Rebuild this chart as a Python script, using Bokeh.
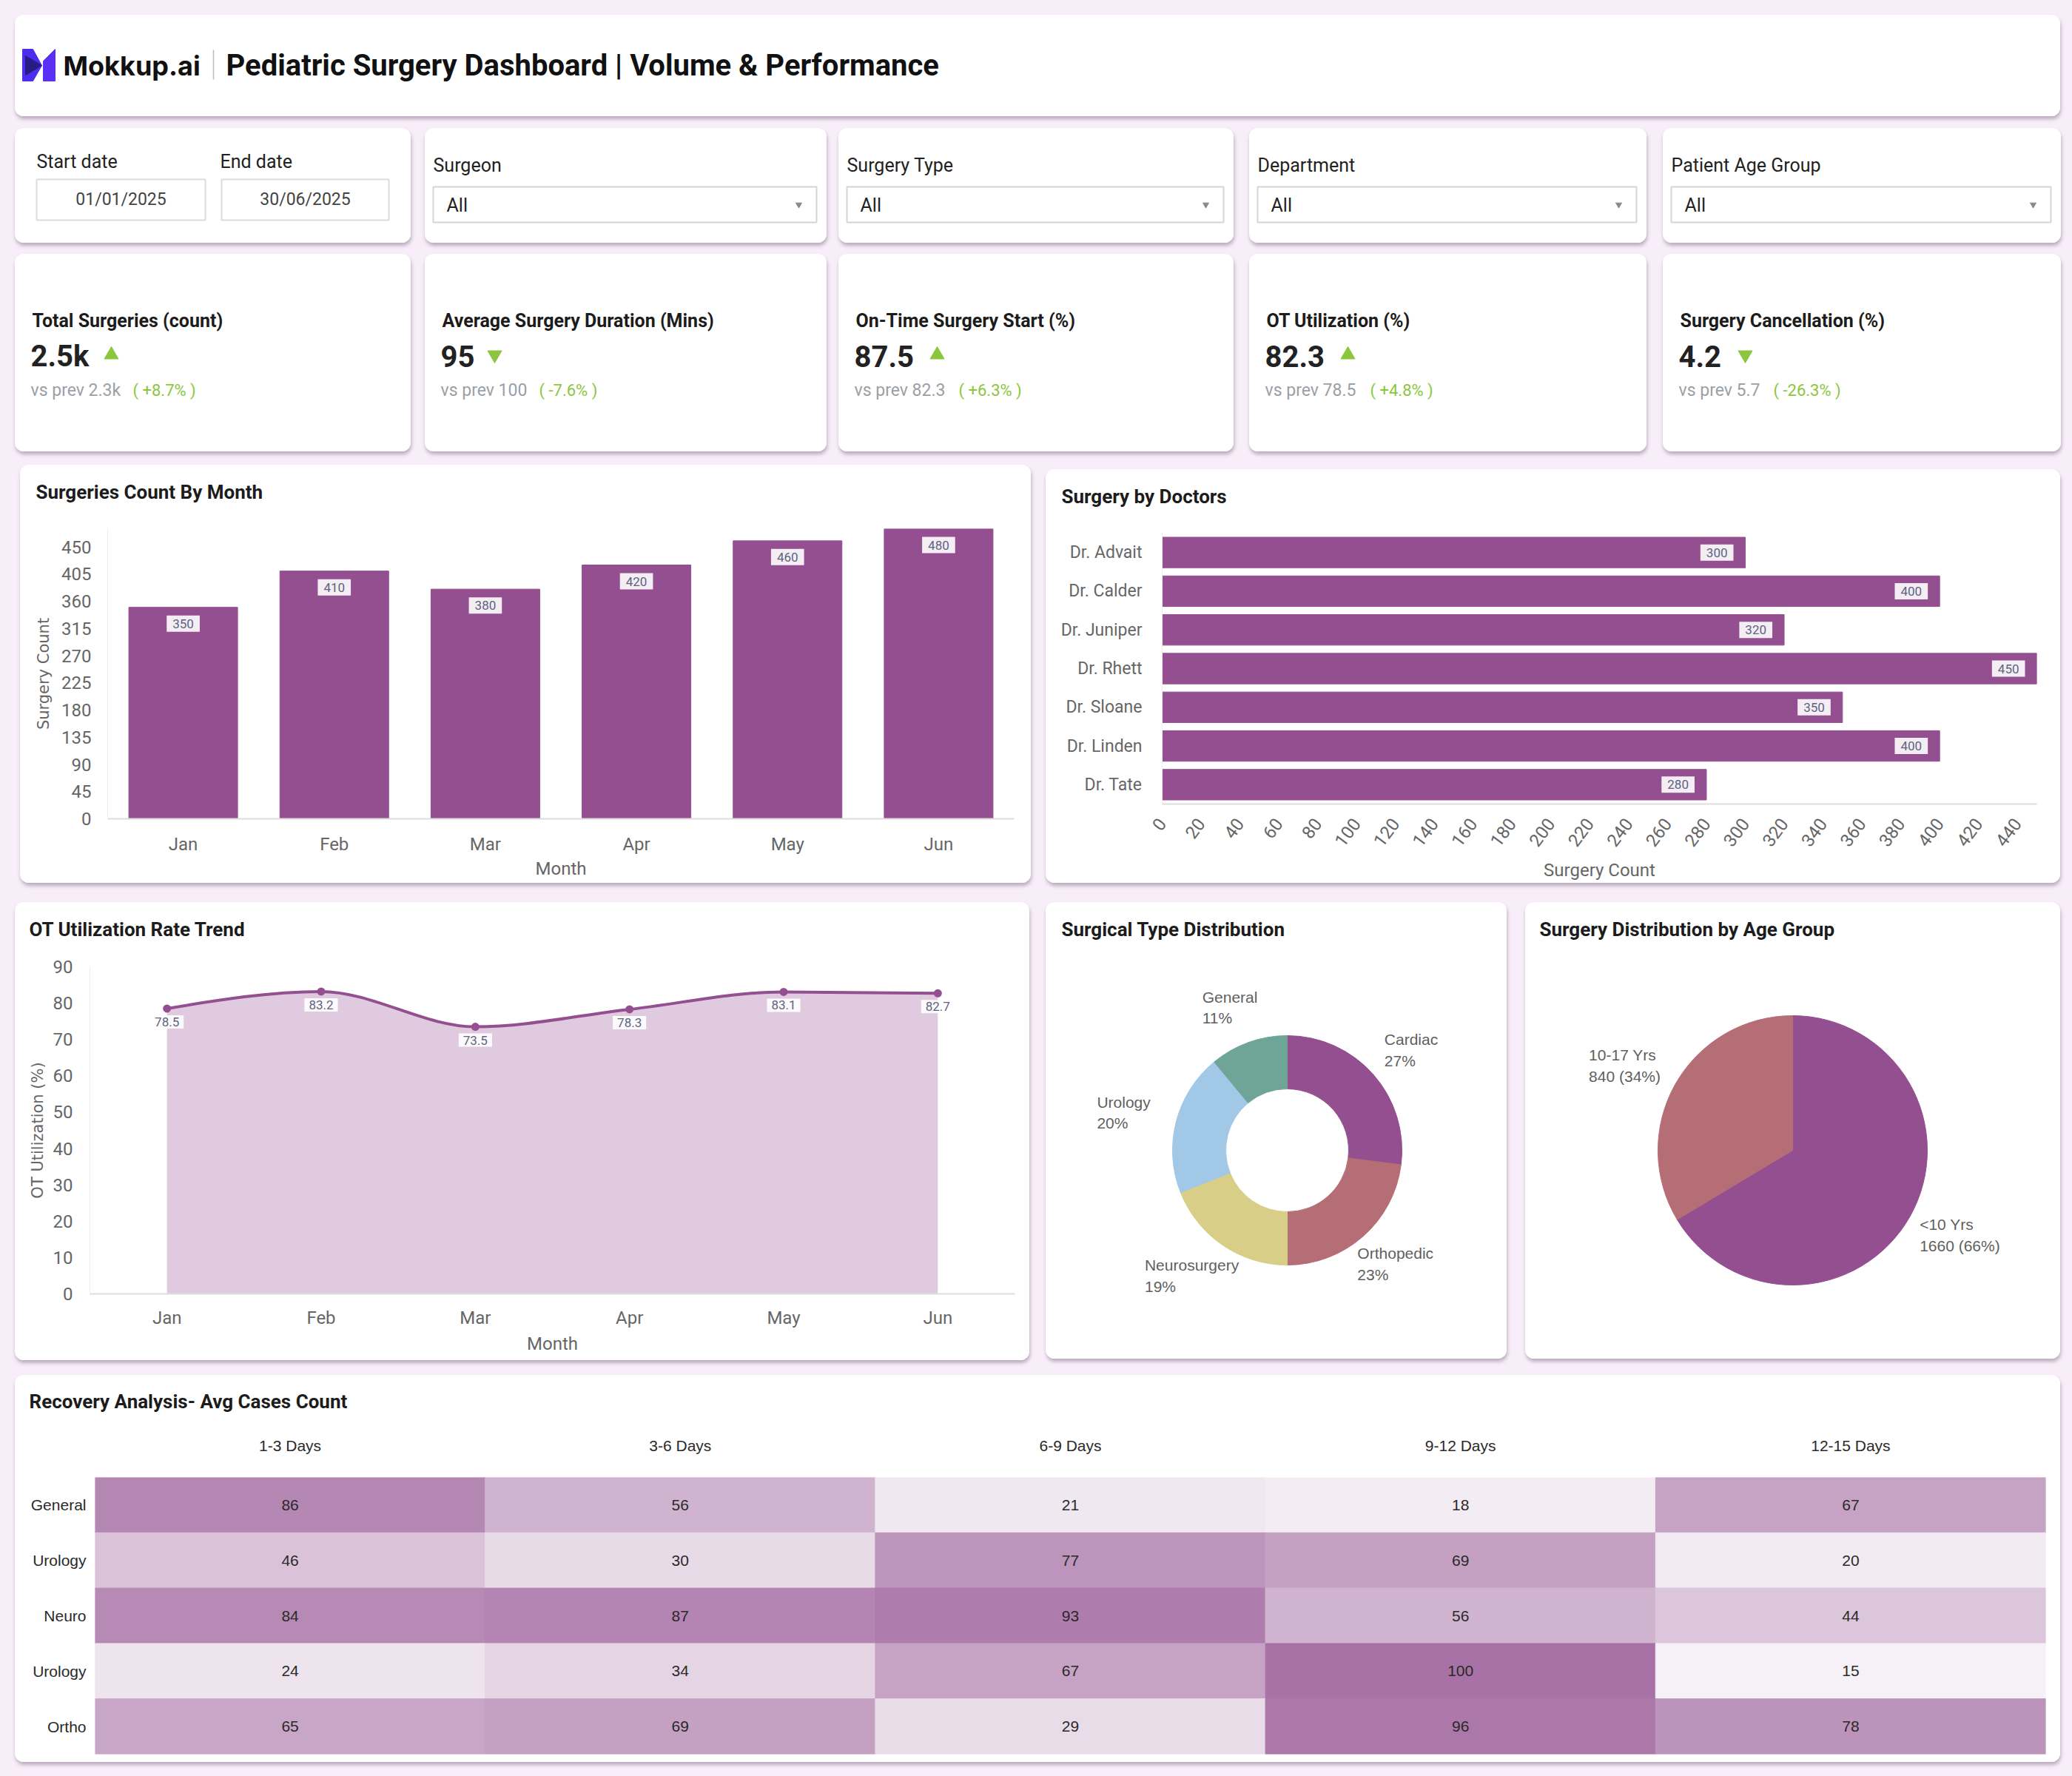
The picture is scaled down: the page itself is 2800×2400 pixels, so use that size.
import numpy as np
from bokeh.plotting import figure
from bokeh.layouts import column, row
from bokeh.models import Range1d, FactorRange, FixedTicker, Spacer, LinearColorMapper
from bokeh.core.properties import value
from bokeh.transform import transform
from bokeh.embed import file_html
from bokeh.resources import INLINE

# ---------------- data ----------------
months = ["Jan", "Feb", "Mar", "Apr", "May", "Jun"]
surgeries_by_month = [350, 410, 380, 420, 460, 480]

doctors = ["Dr. Advait", "Dr. Calder", "Dr. Juniper", "Dr. Rhett", "Dr. Sloane", "Dr. Linden", "Dr. Tate"]
surgeries_by_doctor = [300, 400, 320, 450, 350, 400, 280]

ot_utilization = [78.5, 83.2, 73.5, 78.3, 83.1, 82.7]

surgery_types = ["Cardiac", "Orthopedic", "Neurosurgery", "Urology", "General"]
surgery_type_share = [27, 23, 19, 20, 11]

age_groups = ["<10 Yrs", "10-17 Yrs"]
age_group_counts = [1660, 840]

recovery_bins = ["1-3 Days", "3-6 Days", "6-9 Days", "9-12 Days", "12-15 Days"]
recovery_rows = ["General", "Urology", "Neuro", "Urology", "Ortho"]
recovery_counts = [
    [86, 56, 21, 18, 67],
    [46, 30, 77, 69, 20],
    [84, 87, 93, 56, 44],
    [24, 34, 67, 100, 15],
    [65, 69, 29, 96, 78],
]

filter_labels = ["Surgeon", "Surgery Type", "Department", "Patient Age Group"]
filter_values = ["All", "All", "All", "All"]
start_date = "01/01/2025"
end_date = "30/06/2025"

kpi_titles = ["Total Surgeries (count)", "Average Surgery Duration (Mins)",
              "On-Time Surgery Start (%)", "OT Utilization (%)", "Surgery Cancellation (%)"]
kpi_values = ["2.5k", "95", "87.5", "82.3", "4.2"]
kpi_prev = ["2.3k", "100", "82.3", "78.5", "5.7"]
kpi_change = ["+8.7%", "-7.6%", "+6.3%", "+4.8%", "-26.3%"]
kpi_up = [True, False, True, True, False]

# ---------------- styling ----------------
PURPLE = "#944f91"
ROSE = "#b56e76"
GREEN = "#8cc63e"
PAGE_BG = "#f8eef9"
TITLE_C = "#1c1c1c"
AXIS_TXT = "#666666"
LABEL_TXT = "#5c6480"
CARD_STYLE = {
    "border-radius": "12px",
    "box-shadow": "1px 4px 5px rgba(110, 90, 120, 0.45)",
    "overflow": "hidden",
    "background-color": "white",
}


def make_fig(w, h, styled=True, **kw):
    p = figure(width=w, height=h, output_backend="svg", toolbar_location=None, **kw)
    p.outline_line_color = None
    p.border_fill_color = "white"
    p.background_fill_color = "white"
    if styled:
        p.styles = dict(CARD_STYLE)
    return p


def blank_card(w, h, styled=True):
    # pixel-like coordinates, y measured from the top edge
    return make_fig(w, h, styled=styled, x_range=Range1d(0, w), y_range=Range1d(h, 0),
                    x_axis_type=None, y_axis_type=None, min_border=0)


def put_text(p, x, y, text, size, color="#222222", bold=False, font="Roboto",
             align="left", baseline="middle"):
    p.text(x=[x], y=[y], text=[text], text_font=value(font), text_font_size=f"{size}px",
           text_font_style="bold" if bold else "normal", text_color=color,
           text_align=align, text_baseline=baseline)


def titled_card(chart, text, w, title_h=70, tx=21, ty=36):
    head = blank_card(w, title_h, styled=False)
    put_text(head, tx, ty, text, 26, color=TITLE_C, bold=True)
    return column(row(head), row(chart), styles=dict(CARD_STYLE))


def style_axis(ax, size=24, font="Roboto", color=AXIS_TXT):
    ax.major_label_text_font = font
    ax.major_label_text_font_size = f"{size}px"
    ax.major_label_text_color = color
    ax.major_tick_line_color = None
    ax.minor_tick_line_color = None
    ax.major_tick_out = 0
    ax.major_tick_in = 0
    ax.axis_label_text_font_style = "normal"
    ax.axis_label_text_color = color


# ---------------- header ----------------
header = blank_card(2764, 137)
header.patch(x=[10, 24, 36, 24, 10], y=[46, 46, 68, 89, 89], color="#4d2cf0")
header.patch(x=[14, 36, 14], y=[55, 68, 81], color="#1e1b72", alpha=0.85)
header.patch(x=[38, 54, 54, 38], y=[62, 46, 89, 89], color="#5b2ff6")
put_text(header, 65, 68, "Mokkup.ai", 36, color="#111111", bold=True, font="Inter")
header.segment(x0=[268], y0=[47], x1=[268], y1=[87], line_color="#bbbbbb", line_width=1.5)
put_text(header, 285, 68, "Pediatric Surgery Dashboard | Volume & Performance", 40,
         color="#111111", bold=True)

# ---------------- filters ----------------
card_w = [535, 543, 534, 537, 538]
card_gap = [19, 16, 21, 22]

filters = []
f0 = blank_card(card_w[0], 155)
put_text(f0, 29, 45, "Start date", 25, color="#222222")
put_text(f0, 277, 45, "End date", 25, color="#222222")
f0.quad(left=[29, 279], right=[257, 505], top=[69, 69], bottom=[124, 124],
        fill_color="white", line_color="#dcdcdc", line_width=2)
put_text(f0, 143, 96, start_date, 23, color="#444444", align="center")
put_text(f0, 392, 96, end_date, 23, color="#444444", align="center")
filters.append(f0)
for i, lab in enumerate(filter_labels):
    w = card_w[i + 1]
    f = blank_card(w, 155)
    put_text(f, 11, 50, lab, 25, color="#222222")
    f.quad(left=[11], right=[w - 14], top=[79], bottom=[127],
           fill_color="white", line_color="#d4d4d4", line_width=2)
    put_text(f, 29, 104, filter_values[i], 25, color="#222222")
    f.scatter(x=[w - 38], y=[103], marker="inverted_triangle", size=8, color="#8a8a8a")
    filters.append(f)

# ---------------- KPI cards ----------------
kpi_arrow_x = [130, 94, 133, 133, 111]
kpi_delta_x = [159, 154, 162, 163, 149]
kpis = []
for i in range(5):
    k = blank_card(card_w[i], 267)
    put_text(k, 23, 90, kpi_titles[i], 25, color=TITLE_C, bold=True)
    put_text(k, 21, 138, kpi_values[i], 40, color="#222222", bold=True)
    k.scatter(x=[kpi_arrow_x[i]], y=[136], marker="triangle" if kpi_up[i] else "inverted_triangle",
              size=19, color=GREEN)
    put_text(k, 21, 184, "vs prev " + kpi_prev[i], 23, color="#9aa0a6")
    put_text(k, kpi_delta_x[i], 184, "( " + kpi_change[i] + " )", 22, color=GREEN)
    kpis.append(k)

# ---------------- Surgeries Count By Month ----------------
bw, bh = 1366, 565
bar = make_fig(bw, bh - 70, styled=False, x_range=FactorRange(*months), y_range=Range1d(0, 480),
               min_border_left=118, min_border_right=23, min_border_top=16, min_border_bottom=87)
bar.vbar(x=months, top=surgeries_by_month, width=0.72, color=PURPLE)
bar.text(x=months, y=surgeries_by_month, text=[str(v) for v in surgeries_by_month], y_offset=22,
         text_align="center", text_baseline="middle", text_font=value("Roboto"),
         text_font_size="17px", text_color=LABEL_TXT, background_fill_color="#f4eef4",
         padding=(8, 5))
bar.xgrid.visible = False
bar.ygrid.visible = False
bar.yaxis.ticker = FixedTicker(ticks=list(range(0, 451, 45)))
style_axis(bar.xaxis)
style_axis(bar.yaxis)
bar.xaxis.major_label_standoff = 20
bar.yaxis.major_label_standoff = 22
bar.xaxis.axis_label = "Month"
bar.xaxis.axis_label_text_font = "Roboto"
bar.xaxis.axis_label_text_font_size = "24px"
bar.xaxis.axis_label_standoff = 2
bar.yaxis.axis_label = "Surgery Count"
bar.yaxis.axis_label_text_font = "DejaVu Sans"
bar.yaxis.axis_label_text_font_size = "21px"
bar.yaxis.axis_label_standoff = 9
bar.xaxis.axis_line_color = "#dddddd"
bar.xaxis.axis_line_width = 2
bar.yaxis.axis_line_color = "#eeeeee"
bar_card = titled_card(bar, "Surgeries Count By Month", bw)

# ---------------- Surgery by Doctors ----------------
dw, dh = 1371, 559
doc = make_fig(dw, dh - 70, styled=False, x_range=Range1d(0, 450),
               y_range=FactorRange(*reversed(doctors)),
               min_border_left=157, min_border_right=32, min_border_top=16, min_border_bottom=107)
doc.hbar(y=doctors, right=surgeries_by_doctor, height=0.79, color=PURPLE)
doc.text(x=surgeries_by_doctor, y=doctors, text=[str(v) for v in surgeries_by_doctor],
         x_offset=-16, text_align="right", text_baseline="middle", text_font=value("Roboto"),
         text_font_size="17px", text_color=LABEL_TXT, background_fill_color="#f4eef4",
         padding=(8, 5))
doc.xgrid.visible = False
doc.ygrid.visible = False
doc.xaxis.ticker = FixedTicker(ticks=list(range(0, 441, 20)))
style_axis(doc.xaxis, size=24)
style_axis(doc.yaxis, size=23)
doc.xaxis.major_label_orientation = 0.93
doc.xaxis.major_label_standoff = 22
doc.yaxis.major_label_standoff = 27
doc.xaxis.axis_label = "Surgery Count"
doc.xaxis.axis_label_text_font = "Roboto"
doc.xaxis.axis_label_text_font_size = "24px"
doc.xaxis.axis_label_standoff = 8
doc.xaxis.axis_line_color = "#dddddd"
doc.xaxis.axis_line_width = 2
doc.yaxis.axis_line_color = "#eeeeee"
doc_card = titled_card(doc, "Surgery  by Doctors", dw)

# ---------------- OT Utilization Rate Trend ----------------
ow, oh = 1371, 619
otp = make_fig(ow, oh - 70, styled=False, x_range=Range1d(-0.5, 5.5), y_range=Range1d(0, 90),
               min_border_left=101, min_border_right=20, min_border_top=17, min_border_bottom=90)
xs = np.arange(len(months), dtype=float)
ys = np.array(ot_utilization, dtype=float)
# monotone cubic tangents for the smoothed line
slopes = np.diff(ys) / np.diff(xs)
tang = np.zeros(len(ys))
for i in range(1, len(ys) - 1):
    s0, s1 = slopes[i - 1], slopes[i]
    pm = (s0 + s1) / 2
    tang[i] = (np.sign(s0) + np.sign(s1)) * min(abs(s0), abs(s1), 0.5 * abs(pm))
tang[0] = (3 * slopes[0] - tang[1]) / 2
tang[-1] = (3 * slopes[-1] - tang[-2]) / 2
x0, x1 = xs[:-1], xs[1:]
y0, y1 = ys[:-1], ys[1:]
cx0, cy0 = x0 + 1 / 3, y0 + tang[:-1] / 3
cx1, cy1 = x1 - 1 / 3, y1 - tang[1:] / 3
t = np.linspace(0, 1, 30)[:, None]
bx = ((1 - t) ** 3 * x0 + 3 * (1 - t) ** 2 * t * cx0 + 3 * (1 - t) * t ** 2 * cx1 + t ** 3 * x1).T.ravel()
by = ((1 - t) ** 3 * y0 + 3 * (1 - t) ** 2 * t * cy0 + 3 * (1 - t) * t ** 2 * cy1 + t ** 3 * y1).T.ravel()
otp.varea(x=bx, y1=0, y2=by, fill_color="#dfcadf")
otp.bezier(x0=x0, y0=y0, x1=x1, y1=y1, cx0=cx0, cy0=cy0, cx1=cx1, cy1=cy1,
           line_color=PURPLE, line_width=4)
otp.scatter(x=xs, y=ys, size=9, fill_color=PURPLE, line_color=PURPLE, line_width=2)
otp.text(x=xs, y=ys, text=[f"{v:.1f}" for v in ot_utilization], y_offset=18,
         text_align="center", text_baseline="middle", text_font=value("Roboto"),
         text_font_size="17px", text_color=LABEL_TXT, background_fill_color="white",
         background_fill_alpha=0.9, padding=(6, 3))
otp.xgrid.visible = False
otp.ygrid.visible = False
otp.xaxis.ticker = FixedTicker(ticks=list(range(len(months))))
otp.xaxis.major_label_overrides = {i: m for i, m in enumerate(months)}
otp.yaxis.ticker = FixedTicker(ticks=list(range(0, 91, 10)))
style_axis(otp.xaxis)
style_axis(otp.yaxis)
otp.xaxis.major_label_standoff = 18
otp.yaxis.major_label_standoff = 23
otp.xaxis.axis_label = "Month"
otp.xaxis.axis_label_text_font = "Roboto"
otp.xaxis.axis_label_text_font_size = "24px"
otp.xaxis.axis_label_standoff = 4
otp.yaxis.axis_label = "OT Utilization (%)"
otp.yaxis.axis_label_text_font = "DejaVu Sans"
otp.yaxis.axis_label_text_font_size = "21px"
otp.yaxis.axis_label_standoff = 6
otp.xaxis.axis_line_color = "#dddddd"
otp.xaxis.axis_line_width = 2
otp.yaxis.axis_line_color = "#eeeeee"
ot_card = titled_card(otp, "OT Utilization Rate Trend", ow, tx=19)


def pie_labels(p, cx, cy, rx, ry, starts, ends, texts, size=21):
    # label blocks sit on an ellipse around the pie, centred on each slice's mid angle
    for a0, a1, txt in zip(starts, ends, texts):
        mid = (a0 + a1) / 2
        lx = cx + rx * np.cos(mid)
        ly = cy - ry * np.sin(mid)
        est_w = max(len(s) for s in txt.split("\n")) * 0.52 * size
        p.text(x=[lx - est_w / 2], y=[ly], text=[txt], text_font=value("Liberation Sans"),
               text_font_size=f"{size}px", text_color="#5f5f5f", text_align="left",
               text_baseline="middle", text_line_height=1.25)


# ---------------- Surgical Type Distribution ----------------
nw, nh = 623, 617
don = blank_card(nw, nh)
put_text(don, 21, 36, "Surgical Type Distribution", 26, color=TITLE_C, bold=True)
share = np.array(surgery_type_share, dtype=float)
cum = np.concatenate([[0], np.cumsum(share)]) / share.sum()
end_ang = np.pi / 2 - cum[:-1] * 2 * np.pi
start_ang = np.pi / 2 - cum[1:] * 2 * np.pi
don.annular_wedge(x=326, y=335, inner_radius=83, outer_radius=155,
                  start_angle=start_ang, end_angle=end_ang,
                  color=[PURPLE, ROSE, "#d9ce87", "#a2c8e7", "#6fa596"])
pie_labels(don, 326, 335, 226, 205, start_ang, end_ang,
           [f"{n}\n{v}%" for n, v in zip(surgery_types, surgery_type_share)])

# ---------------- Surgery Distribution by Age Group ----------------
aw, ah = 723, 617
age = blank_card(aw, ah)
put_text(age, 19, 36, "Surgery Distribution by Age Group", 26, color=TITLE_C, bold=True)
cnt = np.array(age_group_counts, dtype=float)
acum = np.concatenate([[0], np.cumsum(cnt)]) / cnt.sum()
a_end = np.pi / 2 - acum[:-1] * 2 * np.pi
a_start = np.pi / 2 - acum[1:] * 2 * np.pi
age.wedge(x=361, y=335, radius=182, start_angle=a_start, end_angle=a_end, color=[PURPLE, ROSE])
pie_labels(age, 361, 335, 260, 233, a_start, a_end,
           [f"{n}\n{c} ({round(100 * c / cnt.sum())}%)" for n, c in zip(age_groups, age_group_counts)])

# ---------------- Recovery Analysis heatmap ----------------
hw, hh = 2764, 523
heat = make_fig(hw, hh - 70, styled=False, x_range=FactorRange(*recovery_bins),
                y_range=Range1d(4.5, -0.5), x_axis_location="above",
                min_border_left=108, min_border_right=20, min_border_top=68, min_border_bottom=11)
cell_x, cell_y, cell_v = [], [], []
for r, vals in enumerate(recovery_counts):
    for c, v in enumerate(vals):
        cell_x.append(recovery_bins[c])
        cell_y.append(r)
        cell_v.append(v)
lo_c = np.array([0xf6, 0xf1, 0xf6], dtype=float)
hi_c = np.array([0xa8, 0x72, 0xa6], dtype=float)
palette = ["#%02x%02x%02x" % tuple(int(round(v)) for v in lo_c + (hi_c - lo_c) * f)
           for f in np.linspace(0, 1, 256)]
mapper = LinearColorMapper(palette=palette, low=min(cell_v), high=max(cell_v))
src = dict(x=cell_x, y=cell_y, v=cell_v, t=[str(v) for v in cell_v])
heat.rect(x="x", y="y", width=1, height=1, source=src,
          fill_color=transform("v", mapper), line_color=transform("v", mapper))
heat.text(x="x", y="y", text="t", source=src, text_align="center", text_baseline="middle",
          text_font=value("Liberation Sans"), text_font_size="21px", text_color="#2a2a2a")
heat.xgrid.visible = False
heat.ygrid.visible = False
heat.yaxis.ticker = FixedTicker(ticks=list(range(len(recovery_rows))))
heat.yaxis.major_label_overrides = {i: n for i, n in enumerate(recovery_rows)}
style_axis(heat.xaxis, size=21, font="Liberation Sans", color="#2a2a2a")
style_axis(heat.yaxis, size=21, font="Liberation Sans", color="#2a2a2a")
heat.xaxis.axis_line_color = None
heat.yaxis.axis_line_color = None
heat.xaxis.major_label_standoff = 32
heat.yaxis.major_label_standoff = 12
heat.yaxis.major_label_text_align = "center"
heat_card = titled_card(heat, "Recovery Analysis- Avg Cases Count", hw, tx=19, ty=35)

# ---------------- page layout ----------------


def hs(w):
    return Spacer(width=w, height=0)


def vs(h):
    return Spacer(width=0, height=h)


def card_row(cards):
    items = [hs(20)]
    for i, c in enumerate(cards):
        items.append(c)
        if i < len(card_gap):
            items.append(hs(card_gap[i]))
    return row(*items)


root = column(
    vs(20),
    row(hs(20), header),
    vs(16),
    card_row(filters),
    vs(15),
    card_row(kpis),
    vs(18),
    row(hs(27), bar_card, hs(20), column(vs(6), doc_card)),
    vs(26),
    row(hs(20), ot_card, hs(22), column(don), hs(25), column(age)),
    vs(20),
    row(hs(20), heat_card),
    width=2800, height=2400,
    styles={"background-color": PAGE_BG},
)

with open("out.html", "w") as fh:
    fh.write(file_html(root, INLINE, title="Pediatric Surgery Dashboard"))
